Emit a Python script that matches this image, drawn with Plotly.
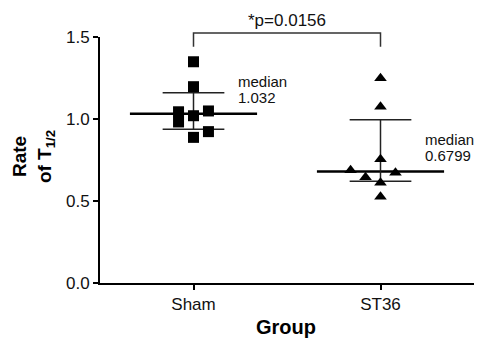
import numpy as np
import plotly.graph_objects as go

# ---- data ----
groups = ["Sham", "ST36"]
sham_values = [1.349, 1.197, 1.044, 0.982, 1.020, 1.049, 0.923, 0.888]
st36_values = [1.248, 1.075, 0.754, 0.688, 0.6718, 0.645, 0.612, 0.526]
median_labels = ["1.032", "0.6799"]
p_label = "*p=0.0156"
y_ticks = [0.0, 0.5, 1.0, 1.5]

# ---- styling / layout ----
sham_jitter = [0, 0, -0.08, -0.08, 0, 0.08, 0.08, 0]
st36_jitter = [0, 0, 0, -0.16, 0.08, -0.08, 0, 0]
FONT = "Arial, Liberation Sans, sans-serif"
X_RANGE = [0.5, 2.5]
Y_RANGE = [0, 1.5]


def px(x):
    return (x - X_RANGE[0]) / (X_RANGE[1] - X_RANGE[0])


def py(y):
    return (y - Y_RANGE[0]) / (Y_RANGE[1] - Y_RANGE[0])


fig = go.Figure()
series = [(sham_values, sham_jitter, "square"), (st36_values, st36_jitter, "triangle-up")]

for i, (vals, jit, sym) in enumerate(series):
    xc = i + 1
    arr = np.array(vals)
    med = float(np.median(arr))
    q1, q3 = np.percentile(arr, [25, 75], method="weibull")
    # median line
    fig.add_trace(go.Scatter(x=[xc - 0.34, xc + 0.34], y=[med, med], mode="lines",
                             line=dict(color="black", width=2.5), showlegend=False, hoverinfo="skip"))
    # IQR caps and vertical
    for q in (q1, q3):
        fig.add_trace(go.Scatter(x=[xc - 0.165, xc + 0.165], y=[q, q], mode="lines",
                                 line=dict(color="#222", width=1.5), showlegend=False, hoverinfo="skip"))
    fig.add_trace(go.Scatter(x=[xc, xc], y=[q1, q3], mode="lines",
                             line=dict(color="#222", width=1.5), showlegend=False, hoverinfo="skip"))
    # points
    fig.add_trace(go.Scatter(x=[xc + j for j in jit], y=vals, mode="markers",
                             marker=dict(symbol=sym, size=11, color="black", line=dict(width=0)),
                             showlegend=False, cliponaxis=False))
    # median labels
    fig.add_annotation(x=xc + 0.225, y=med + 0.145, xref="x", yref="y", text="median",
                       showarrow=False, xanchor="left", yanchor="bottom", yshift=-2,
                       font=dict(size=15, color="#111", family=FONT))
    fig.add_annotation(x=xc + 0.225, y=med + 0.145, xref="x", yref="y", text=median_labels[i],
                       showarrow=False, xanchor="left", yanchor="top", yshift=3,
                       font=dict(size=15, color="#111", family=FONT))

# significance bracket
top, bot = 1.525, 1.44
fig.add_shape(type="path", xref="paper", yref="paper",
              path=f"M {px(1)} {py(bot)} L {px(1)} {py(top)} L {px(2)} {py(top)} L {px(2)} {py(bot)}",
              line=dict(color="#333", width=1.5))
fig.add_annotation(x=px(1.5), y=py(1.6), xref="paper", yref="paper", text=p_label,
                   showarrow=False, xanchor="center", yanchor="middle",
                   font=dict(size=17, color="#111", family=FONT))

# axis titles
fig.add_annotation(x=-0.179, y=0.512, xref="paper", yref="paper",
                   text="<b>Rate</b><br><b>of T<sub>1/2</sub></b>", textangle=-90,
                   showarrow=False, xanchor="center", yanchor="middle",
                   font=dict(size=19, color="black", family=FONT))
fig.add_annotation(x=0.497, y=-0.179, xref="paper", yref="paper", text="<b>Group</b>",
                   showarrow=False, xanchor="center", yanchor="middle",
                   font=dict(size=20, color="black", family=FONT))

fig.update_xaxes(range=X_RANGE, tickvals=[1, 2], ticktext=groups, showline=True,
                 linecolor="black", linewidth=2, ticks="outside", ticklen=5, tickwidth=2,
                 tickcolor="black", showgrid=False, zeroline=False,
                 tickfont=dict(size=17, color="#111", family=FONT))
fig.update_yaxes(range=Y_RANGE, tickvals=y_ticks, tickformat=".1f", showline=True,
                 linecolor="black", linewidth=2, ticks="outside", ticklen=5, tickwidth=2,
                 tickcolor="black", showgrid=False, zeroline=False,
                 tickfont=dict(size=17, color="#111", family=FONT))

fig.update_layout(width=488, height=338, margin=dict(l=100, r=14, t=37, b=55),
                  plot_bgcolor="white", paper_bgcolor="white", font=dict(family=FONT))

fig.write_html("out.html", config={"displayModeBar": False},
               post_script="document.body.style.margin='0px';")
